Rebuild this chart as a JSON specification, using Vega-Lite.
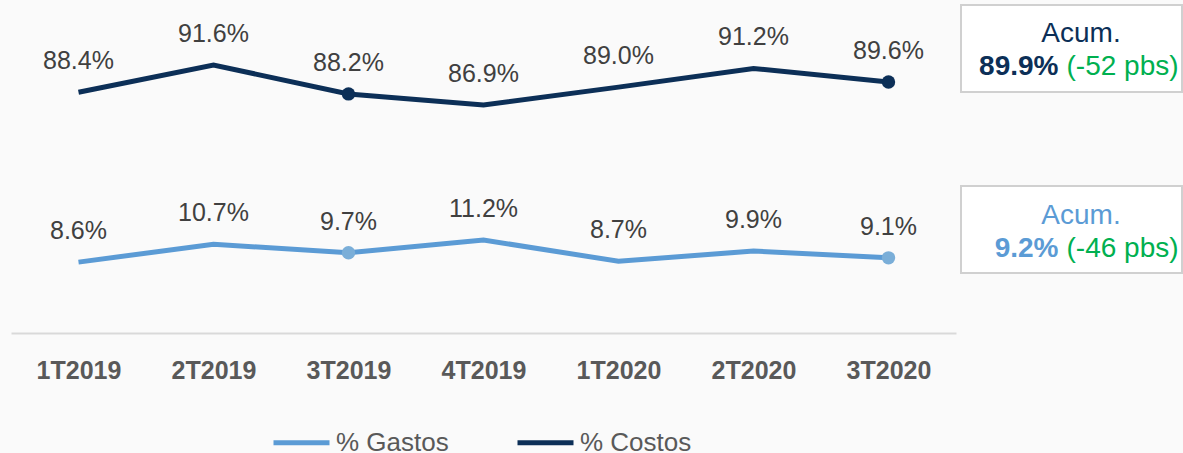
{
  "$schema": "https://vega.github.io/schema/vega-lite/v6.json",
  "background": "#fafafa",
  "padding": {"left": 11, "top": 0, "right": 0, "bottom": 0},
  "config": {"view": {"stroke": null}, "font": "Liberation Sans"},
  "datasets": {
    "series": [
      {"q": "1T2019", "serie": "% Costos", "v": 88.4},
      {"q": "2T2019", "serie": "% Costos", "v": 91.6},
      {"q": "3T2019", "serie": "% Costos", "v": 88.2},
      {"q": "4T2019", "serie": "% Costos", "v": 86.9},
      {"q": "1T2020", "serie": "% Costos", "v": 89.0},
      {"q": "2T2020", "serie": "% Costos", "v": 91.2},
      {"q": "3T2020", "serie": "% Costos", "v": 89.6},
      {"q": "1T2019", "serie": "% Gastos", "v": 8.6},
      {"q": "2T2019", "serie": "% Gastos", "v": 10.7},
      {"q": "3T2019", "serie": "% Gastos", "v": 9.7},
      {"q": "4T2019", "serie": "% Gastos", "v": 11.2},
      {"q": "1T2020", "serie": "% Gastos", "v": 8.7},
      {"q": "2T2020", "serie": "% Gastos", "v": 9.9},
      {"q": "3T2020", "serie": "% Gastos", "v": 9.1}
    ],
    "acum": [
      {"serie": "% Costos", "acum": "89.9%", "delta": "(-52 pbs)"},
      {"serie": "% Gastos", "acum": "9.2%", "delta": "(-46 pbs)"}
    ]
  },
  "bounds": "flush",
  "spacing": 5,
  "hconcat": [
    {
      "width": 945,
      "height": 333,
      "data": {"name": "series"},
      "transform": [{"calculate": "format(datum.v, '.1f') + '%'", "as": "label"}],
      "encoding": {
        "x": {
          "field": "q", "type": "ordinal", "sort": null,
          "scale": {"type": "point", "padding": 0.5},
          "axis": {
            "title": null, "domainColor": "#d9d9d9", "domainWidth": 2, "ticks": false,
            "labelFontSize": 25, "labelFontWeight": "bold", "labelColor": "#595959",
            "labelPadding": 25, "labelAngle": 0, "grid": false, "labelFont": "Liberation Sans"
          }
        }
      },
      "layer": [
        {
          "transform": [{"filter": "datum.serie == '% Costos'"}],
          "encoding": {
            "y": {"field": "v", "type": "quantitative", "scale": {"domain": [60.07, 99.25], "nice": false, "zero": false}, "axis": null}
          },
          "layer": [
            {
              "mark": {"type": "line", "strokeWidth": 5},
              "encoding": {
                "color": {
                  "field": "serie", "type": "nominal",
                  "scale": {"domain": ["% Gastos", "% Costos"], "range": ["#5b9bd5", "#0c2f57"]},
                  "legend": {
                    "orient": "none", "legendX": 260, "legendY": 412, "direction": "horizontal",
                    "title": null, "symbolType": "stroke", "symbolSize": 3136, "symbolStrokeWidth": 5,
                    "labelFontSize": 26, "labelColor": "#595959", "labelOffset": 4, "columnPadding": 58,
                    "padding": 0, "labelFont": "Liberation Sans"
                  }
                }
              }
            },
            {
              "transform": [{"filter": "datum.q == '3T2019' || datum.q == '3T2020'"}],
              "mark": {"type": "point", "filled": true, "size": 180, "color": "#0c2f57", "opacity": 1}
            },
            {
              "mark": {"type": "text", "fontSize": 25, "color": "#404040", "baseline": "alphabetic", "dy": -23},
              "encoding": {"text": {"field": "label"}}
            }
          ]
        },
        {
          "transform": [{"filter": "datum.serie == '% Gastos'"}],
          "encoding": {
            "y": {"field": "v", "type": "quantitative", "scale": {"domain": [0.26, 39.44], "nice": false, "zero": false}, "axis": null}
          },
          "layer": [
            {
              "mark": {"type": "line", "strokeWidth": 5},
              "encoding": {"color": {"field": "serie", "type": "nominal"}}
            },
            {
              "transform": [{"filter": "datum.q == '3T2019' || datum.q == '3T2020'"}],
              "mark": {"type": "point", "filled": true, "size": 180, "color": "#7aaed8", "opacity": 1}
            },
            {
              "mark": {"type": "text", "fontSize": 25, "color": "#404040", "baseline": "alphabetic", "dy": -23},
              "encoding": {"text": {"field": "label"}}
            }
          ]
        }
      ],
      "resolve": {"scale": {"y": "independent"}}
    },
    {
      "width": 221,
      "height": 278,
      "data": {"name": "acum"},
      "encoding": {
        "y": {"field": "serie", "type": "nominal", "sort": null, "scale": {"type": "band", "paddingInner": 0.5193, "paddingOuter": 0.0276}, "axis": null}
      },
      "layer": [
        {"mark": {"type": "bar", "fill": "white", "stroke": "#d0d0d0", "strokeWidth": 2}},
        {
          "mark": {"type": "text", "fontSize": 28, "align": "center", "baseline": "alphabetic", "dx": 9.5, "dy": -6},
          "encoding": {
            "text": {"value": "Acum."},
            "color": {"condition": {"test": "datum.serie == '% Costos'", "value": "#0c2f57"}, "value": "#5b9bd5"}
          }
        },
        {
          "mark": {"type": "text", "fontSize": 28, "fontWeight": "bold", "align": "right", "baseline": "alphabetic", "dx": -13, "dy": 27},
          "encoding": {
            "text": {"field": "acum"},
            "color": {"condition": {"test": "datum.serie == '% Costos'", "value": "#0c2f57"}, "value": "#5b9bd5"}
          }
        },
        {
          "mark": {"type": "text", "fontSize": 28, "align": "left", "baseline": "alphabetic", "dx": -5, "dy": 27, "color": "#00b050"},
          "encoding": {"text": {"field": "delta"}}
        }
      ]
    }
  ]
}
